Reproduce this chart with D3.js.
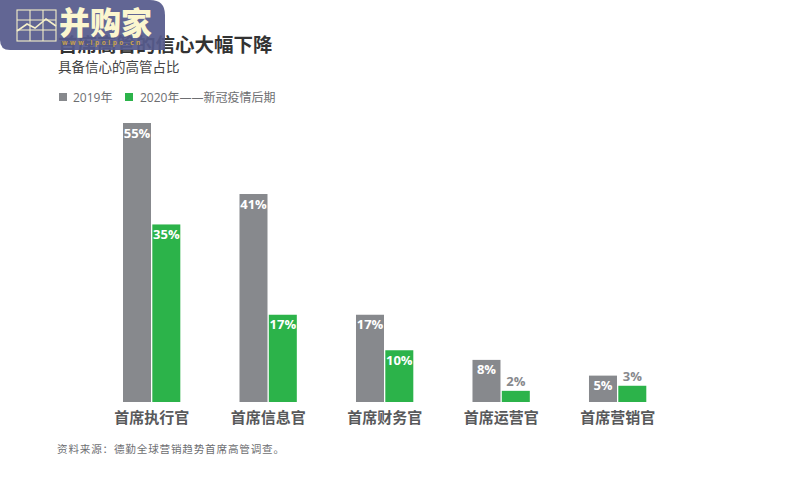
<!DOCTYPE html>
<html><head><meta charset="utf-8">
<script src="https://cdn.jsdelivr.net/npm/d3@7/dist/d3.min.js"></script>
<style>html,body{margin:0;padding:0;background:#fff}svg{display:block}text{font-family:"Open Sans","Noto Sans CJK SC",sans-serif}</style>
</head><body><svg id="c" width="805" height="490"></svg>
<script>
const categories=["首席执行官","首席信息官","首席财务官","首席运营官","首席营销官"];
const seriesNames=["2019年","2020年——新冠疫情后期"];
const values2019=[55,41,17.2,8.3,5.2];
const values2020=[35,17.2,10.2,2.2,3.2];
const svg=d3.select("#c");
const x=d3.scaleBand().domain(categories).range([123,646.3]).paddingInner(0.508).paddingOuter(0);
const xs=d3.scaleBand().domain([0,1]).range([0,x.bandwidth()]).paddingInner(0.045);
const y=d3.scaleLinear().domain([0,55]).range([402,123]);
const colors=["#87898d","#2cb34a"];
const fmt=d3.format(".0f");
const rows=categories.map((c,i)=>({c,v:[values2019[i],values2020[i]]}));
const g=svg.selectAll("g.grp").data(rows).join("g").attr("transform",d=>`translate(${x(d.c)},0)`);
[0,1].forEach(s=>{
  g.append("rect").attr("x",xs(s)).attr("width",xs.bandwidth())
   .attr("y",d=>y(d.v[s])).attr("height",d=>402-y(d.v[s])).attr("fill",colors[s]);
  g.append("text").attr("x",xs(s)+xs.bandwidth()/2).attr("text-anchor","middle")
   .attr("y",d=>d.v[s]<=3.5?y(d.v[s])-5:y(d.v[s])+14.5)
   .attr("font-size",13).attr("font-weight",700)
   .attr("fill",d=>d.v[s]<=3.5?"#87898d":"#fff").text(d=>fmt(d.v[s])+"%");
});
const ax=svg.append("g").attr("transform","translate(0,402)").call(d3.axisBottom(x).tickSize(0).tickPadding(10));
ax.select(".domain").remove();
ax.selectAll("text").attr("font-size",15).attr("font-weight",700).attr("fill","#58595b").style("font-family",'"Noto Sans CJK SC",sans-serif');
svg.append("text").attr("x",58).attr("y",52).attr("font-size",19.5).attr("font-weight",700).attr("fill","#333").style("font-family",'"Noto Sans CJK SC"').text("首席高管的信心大幅下降");
svg.append("text").attr("x",58).attr("y",72).attr("font-size",13.5).attr("fill","#444").style("font-family",'"Noto Sans CJK SC"').text("具备信心的高管占比");
[[59,73],[125,140]].forEach((p,i)=>{
  svg.append("rect").attr("x",p[0]).attr("y",93).attr("width",8).attr("height",8).attr("fill",colors[i]);
  svg.append("text").attr("x",p[1]).attr("y",101.5).attr("font-size",12).attr("fill","#6d6e71").text(seriesNames[i]);
});
svg.append("text").attr("x",57).attr("y",453).attr("font-size",10.6).attr("letter-spacing",0.8).attr("fill","#6d6e71").style("font-family",'"Noto Sans CJK SC"').text("资料来源：德勤全球营销趋势首席高管调查。");
// watermark
const wm=svg.append("g");
wm.append("path").attr("d","M0,0H150Q165,0 165,15V50H10Q0,50 0,40Z").attr("fill","#565a8c").attr("fill-opacity",0.93);
const icon=wm.append("g").attr("stroke","#f5efc8").attr("stroke-width",1.1).attr("fill","none");
icon.append("rect").attr("x",17).attr("y",10).attr("width",39).attr("height",31);
[30,43].forEach(v=>icon.append("line").attr("x1",v).attr("x2",v).attr("y1",10).attr("y2",41));
[20,30].forEach(v=>icon.append("line").attr("x1",17).attr("x2",56).attr("y1",v).attr("y2",v));
icon.append("polyline").attr("points","17,31 27,24 35,28 46,19 56,26").attr("stroke-width",1.6);
wm.append("text").attr("x",59).attr("y",34).attr("font-size",31).attr("font-weight",900).attr("fill","#fbf6cf").style("font-family",'"Noto Sans CJK SC"').text("并购家");
wm.append("text").attr("x",62).attr("y",44.5).attr("font-size",6.5).attr("font-weight",700).attr("letter-spacing",2.5).attr("fill","#c9a24a").text("www.ipoipo.cn");
</script></body></html>
